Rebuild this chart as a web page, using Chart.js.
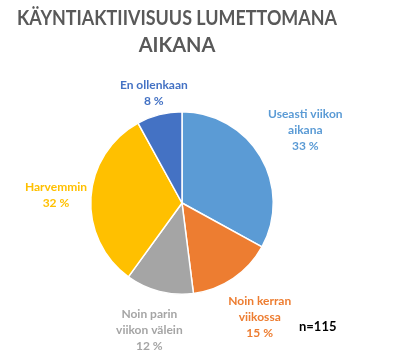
<!DOCTYPE html>
<html>
<head>
<meta charset="utf-8">
<script src="https://cdn.jsdelivr.net/npm/chart.js@4"></script>
<style>
  html, body { margin: 0; padding: 0; background: #fff; }
  #wrap { width: 405px; height: 354px; position: relative; }
</style>
</head>
<body>
<div id="wrap"><canvas id="chart"></canvas></div>
<script>
// data
var categories = [ "Useasti viikon aikana", "Noin kerran viikossa", "Noin parin viikon välein", "Harvemmin", "En ollenkaan" ];
var shares = [ 33, 15, 12, 32, 8 ];
var labelLines = [ [ "Useasti viikon", "aikana" ], [ "Noin kerran", "viikossa" ], [ "Noin parin", "viikon välein" ], [ "Harvemmin" ], [ "En ollenkaan" ] ];
var titleLines = [ "KÄYNTIAKTIIVISUUS LUMETTOMANA", "AIKANA" ];
var sampleSize = 115;

var sliceColors = [ "#5B9BD5", "#ED7D31", "#A5A5A5", "#FFC000", "#4472C4" ];
// how far outside the pie each label block sits
var labelGap = [ 52, 47, 40, 35, 22 ];

var outsideLabels = {
	id: "outsideLabels",
	afterDatasetsDraw: function( chart ) {
		var ctx = chart.ctx;
		var meta = chart.getDatasetMeta( 0 );
		ctx.save();
		ctx.textAlign = "center";
		ctx.textBaseline = "middle";

		// title, drawn here so the long first line keeps its size
		ctx.fillStyle = "#595959";
		ctx.font = "bold 20px Lato, 'DejaVu Sans', sans-serif";
		ctx.fillText( titleLines[ 0 ], 177, 19, 320 );
		ctx.fillText( titleLines[ 1 ], 177, 46, 320 );

		ctx.font = "bold 12px Lato, 'DejaVu Sans', sans-serif";
		meta.data.forEach( function( arc, i ) {
			var p = arc.getProps( [ "x", "y", "startAngle", "endAngle", "outerRadius" ], true );
			var mid = ( p.startAngle + p.endAngle ) / 2;
			var r = p.outerRadius + labelGap[ i ];
			var cx = p.x + Math.cos( mid ) * r;
			var cy = p.y + Math.sin( mid ) * r;
			var lines = labelLines[ i ].concat( [ shares[ i ] + " %" ] );
			var lh = 16;
			var top = cy - ( lines.length - 1 ) * lh / 2;
			ctx.fillStyle = sliceColors[ i ];
			lines.forEach( function( t, j ) {
				ctx.fillText( t, cx, top + j * lh );
			} );
		} );

		// sample size note
		ctx.fillStyle = "#000";
		ctx.font = "bold 13px Lato, 'DejaVu Sans', sans-serif";
		ctx.textAlign = "left";
		ctx.fillText( "n=" + sampleSize, 299, 327 );
		ctx.restore();
	}
};

new Chart( document.getElementById( "chart" ), {
	type: "pie",
	data: {
		labels: categories,
		datasets: [ {
			data: shares,
			backgroundColor: sliceColors,
			borderColor: "#fff",
			borderWidth: 1.5
		} ]
	},
	options: {
		responsive: true,
		maintainAspectRatio: false,
		animation: false,
		layout: { padding: { left: 90, right: 131, top: 111, bottom: 59 } },
		plugins: {
			legend: { display: false },
			tooltip: { enabled: false },
			title: { display: false }
		}
	},
	plugins: [ outsideLabels ]
} );
</script>
</body>
</html>
